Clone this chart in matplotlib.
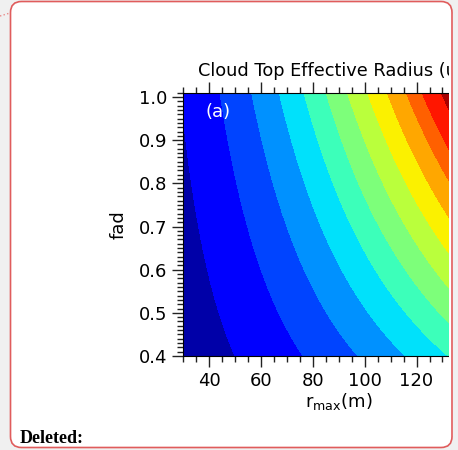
import numpy as np
import matplotlib
matplotlib.use("Agg")
import matplotlib.pyplot as plt
from matplotlib.patches import FancyBboxPatch, Rectangle
from matplotlib.ticker import MultipleLocator

# band edges, in r_max (m) along the fad = 1 line
edge_rmax = [10.0, 29.1, 44.4, 56.7, 67.4, 77.0, 85.6, 93.9, 101.7, 109.3, 116.7, 122.8, 130.2, 165.0]
band_index = list(range(len(edge_rmax)))
# contours follow r_max * fad**k = const (checked at fad 0.4, 0.7, 1.0)
fad_exp = 0.59

rmax = np.linspace(30, 150, 400)
fad = np.linspace(0.4, 1.01, 300)
R, F = np.meshgrid(rmax, fad)
field = np.interp(R * F ** fad_exp, edge_rmax, band_index)

W, H = 458, 450
fig = plt.figure(figsize=(W / 100, H / 100), dpi=100, facecolor="#f0f0f0")

# page background with the comment box
bg = fig.add_axes([0, 0, 1, 1], zorder=-1)
bg.set_xlim(0, W)
bg.set_ylim(H, 0)
bg.axis("off")
bg.add_patch(FancyBboxPatch((10.5, 1.5), 441.5, 446, boxstyle="round,pad=0,rounding_size=11",
                            facecolor="white", edgecolor="none"))

ax = fig.add_axes([183.3 / W, 94 / H, 311 / W, 263.3 / H])
ax.contourf(R, F, field, levels=band_index, cmap="jet")
ax.set_xlim(30, 150)
ax.set_ylim(0.4, 1.01)

ax.xaxis.set_major_locator(MultipleLocator(20))
ax.xaxis.set_minor_locator(MultipleLocator(5))
ax.yaxis.set_major_locator(MultipleLocator(0.1))
ax.yaxis.set_minor_locator(MultipleLocator(0.01))
ax.tick_params(which="both", direction="out", top=True, right=True, labelsize=13, width=1, color="#222222")
ax.tick_params(which="major", length=8)
ax.tick_params(which="minor", length=4.5)

ax.set_title("Cloud Top Effective Radius (um)", fontsize=12.8, pad=12, x=0.502)
ax.set_xlabel(r"r$_{\rm max}$(m)", fontsize=13, labelpad=1)
ax.set_ylabel("fad", fontsize=13, labelpad=8)
ax.text(38.5, 0.966, "(a)", color="white", fontsize=13, va="center", ha="left")

# right edge of the comment box cuts the figure off
top = fig.add_axes([0, 0, 1, 1], zorder=10)
top.set_xlim(0, W)
top.set_ylim(H, 0)
top.axis("off")
top.patch.set_alpha(0)
top.add_patch(Rectangle((448.5, 14), 4, 422, facecolor="white", edgecolor="none"))
top.add_patch(Rectangle((452.5, 0), 10, H, facecolor="#f0f0f0", edgecolor="none"))
top.add_patch(FancyBboxPatch((10.5, 1.5), 441.5, 446, boxstyle="round,pad=0,rounding_size=11",
                             facecolor="none", edgecolor="#e05c5c", linewidth=1.2))
top.plot([0, 10], [16, 13], color="#e88a8a", linestyle=":", linewidth=1)
top.text(20, 443, "Deleted:", fontsize=13, fontweight="bold", family="Liberation Serif",
         va="baseline", ha="left")

fig.savefig("out.png", dpi=100, facecolor=fig.get_facecolor())
